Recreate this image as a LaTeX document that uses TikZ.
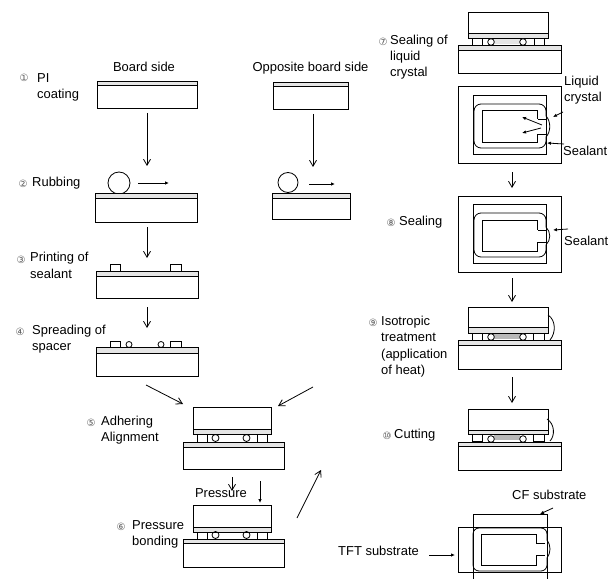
\documentclass[tikz,border=0pt]{standalone}
\usepackage{fontspec}
\setmainfont{Liberation Sans}
\newfontfamily\symfont{DejaVu Sans}
\usetikzlibrary{arrows.meta}
\definecolor{layergray}{gray}{0.9}
\definecolor{fillgray}{gray}{0.72}
\definecolor{numgray}{gray}{0.35}
\tikzset{
  x=1bp,y=-1bp,
  outline/.style={draw=black,line width=0.8bp,line join=miter},
  layer/.style={outline,fill=layergray},
  flow/.style={draw=black,line width=0.8bp,-{Straight Barb[length=6bp,width=7bp,line width=0.8bp]}},
  small flow/.style={draw=black,line width=0.8bp,-{Latex[length=4bp,width=3.5bp]}},
  lbl/.style={anchor=mid west,inner sep=0pt,font=\fontsize{13}{15}\selectfont},
  lblc/.style={anchor=mid,inner sep=0pt,font=\fontsize{13}{15}\selectfont},
  num/.style={anchor=center,inner sep=0pt,text=numgray,font=\symfont\fontsize{10}{12}\selectfont},
}
% plate: x1 x2 top line bottom
\newcommand{\plate}[5]{%
  \path[layer] (#1,#3) rectangle (#2,#4);
  \path[outline] (#1,#4) rectangle (#2,#5);}
% arrow through named end coordinates
\newcommand{\arrowline}[6]{%
  \coordinate (#1-s) at (#3,#4);
  \coordinate (#1-e) at (#5,#6);
  \draw[#2] (#1-s) -- (#1-e);}
\newcommand{\cellbody}[6]{% y1 y2 y3 y4 cy r
  \path[outline] (193,#1) rectangle (271,#2);
  \path[layer] (193,#2) rectangle (271,#3);
  \path[outline] (197,#3) rectangle (207,#4);
  \path[outline] (257,#3) rectangle (267,#4);
  \path[outline] (215.5,#5) circle[radius=#6];
  \path[outline] (246.5,#5) circle[radius=#6];}
\newcommand{\cellbodyr}[7]{% y1 y2 y3 y4 cy fill-colour right-bump-x
  \path[outline] (468,#1) rectangle (548,#2);
  \path[layer] (468,#2) rectangle (548,#3);
  \path[fill=#6] (494,#3+1) rectangle (520,#4-1);
  \path[outline] (472,#3) rectangle (482,#4);
  \path[outline] (#7,#3) rectangle (544,#4);
  \path[outline,fill=white] (491,#5) circle[radius=3.3];
  \path[outline,fill=white] (523,#5) circle[radius=3.3];}
% top view: rounded seal and cell with notch
\newcommand{\sealview}[9]{% xl xr ytop ybot | cx cytop cybot | ntop nbot
  \path[outline,rounded corners=7bp] (#2,#8-3) -- (#2,#3) -- (#1,#3) -- (#1,#4) -- (#2,#4) -- (#2,#9+3);
  \draw[outline] (#2,#8-3) .. controls (#2+5,#8+2) and (#2+5,#9-2) .. (#2,#9+3);
  \path[outline] (#5,#6) rectangle (537,#7);
  \path[outline,fill=white] (537,#8) -- (#2,#8) -- (#2,#9) -- (537,#9);
  \draw[white,line width=1.2bp] (537,#8) -- (537,#9);}
\begin{document}
\begin{tikzpicture}
\useasboundingbox (0,0) rectangle (616,579);
% ---------- left column, board side
\node[lblc] (hboard) at (144,68.5) {Board side};
\node[lblc] (hopp) at (310.5,69) {Opposite board side};
\node[num] (n1) at (24,78) {①};
\node[lbl] (t1a) at (37,80) {PI};
\node[lbl] (t1b) at (37,96) {coating};
\plate{97}{197}{81}{85}{108}
\arrowline{a1}{flow}{147}{113}{147}{166}
\node[num] (n2) at (23,184) {②};
\node[lbl] (t2) at (32,184) {Rubbing};
\node[outline,circle,minimum size=22bp,inner sep=0pt] (r1) at (119,183) {};
\arrowline{a2}{small flow}{138}{183}{169}{183}
\plate{95}{197}{193.5}{198}{222}
\arrowline{a3}{flow}{147}{227}{147}{258}
\node[num] (n3) at (21,260) {③};
\node[lbl] (t3a) at (30,259) {Printing of};
\node[lbl] (t3b) at (30,276) {sealant};
\plate{96}{198}{271}{276}{298}
\path[outline] (110,264) rectangle (120.5,271);
\path[outline] (170,264) rectangle (181.5,271);
\arrowline{a4}{flow}{147}{307}{147}{328}
\node[num] (n4) at (20,332) {④};
\node[lbl] (t4a) at (32,332) {Spreading of};
\node[lbl] (t4b) at (32,348) {spacer};
\plate{96}{198}{347}{353}{376}
\path[outline] (110,341) rectangle (120,347);
\path[outline] (170,341) rectangle (181,347);
\path[outline] (129,344.5) circle[radius=3];
\path[outline] (161,344.5) circle[radius=3];
% ---------- opposite board side
\plate{273}{348}{82}{86}{109}
\arrowline{a5}{flow}{313}{114}{313}{167}
\node[outline,circle,minimum size=20bp,inner sep=0pt] (r2) at (288,182.5) {};
\arrowline{a6}{small flow}{309}{184}{335}{184}
\plate{272}{350}{193}{198}{219}
% ---------- adhering
\arrowline{a7}{flow}{146}{385}{183}{404}
\arrowline{a8}{flow}{313}{387}{278}{406}
\node[num] (n5) at (91,423) {⑤};
\node[lbl] (t5a) at (101,423) {Adhering};
\node[lbl] (t5b) at (101,439) {Alignment};
\cellbody{407}{429}{434}{442}{438}{3.5}
\plate{183}{284}{442}{447}{469}
\arrowline{a9}{flow}{232}{477}{232}{491}
\node[lblc] (press) at (221,495) {Pressure};
\arrowline{a10}{small flow}{260}{481}{260}{503}
% ---------- pressure bonding
\node[num] (n6) at (121,527) {⑥};
\node[lbl] (t6a) at (132,527) {Pressure};
\node[lbl] (t6b) at (132,543) {bonding};
\cellbody{505}{527}{532}{539}{535}{3.5}
\plate{183}{284}{539}{543}{567}
\arrowline{a11}{flow}{297}{518}{321}{470}
% ---------- sealing of liquid crystal
\node[num] (n7) at (383,42) {⑦};
\node[lbl] (t7a) at (390,42) {Sealing of};
\node[lbl] (t7b) at (390,58) {liquid};
\node[lbl] (t7c) at (390,74) {crystal};
\cellbodyr{12}{33}{38}{45}{42}{layergray}{534}
\plate{458}{561}{45}{50}{73}
\path[outline] (458,86) rectangle (561,163);
\path[outline] (473,95) rectangle (546,154);
\sealview{474}{546}{104}{148}{482}{110}{142}{119}{134}
\arrowline{a12}{small flow}{542}{125}{522}{117}
\arrowline{a13}{small flow}{541}{128}{522}{133}
\node[lbl] (t7d) at (564,83) {Liquid};
\node[lbl] (t7e) at (564,99) {crystal};
\node[lbl] (t7f) at (563,153) {Sealant};
\arrowline{a14}{small flow}{563}{112}{553}{117}
\arrowline{a15}{small flow}{564}{144}{547}{143}
\arrowline{a16}{flow}{512}{172}{512}{188}
% ---------- sealing
\node[num] (n8) at (391,223) {⑧};
\node[lbl] (t8) at (399,223) {Sealing};
\path[outline] (458,196) rectangle (561,272);
\path[outline] (473,204) rectangle (546,263);
\sealview{474}{546}{213}{257}{482}{220}{251}{230}{242}
\node[lbl] (t8b) at (564,243) {Sealant};
\arrowline{a17}{small flow}{568}{229}{553}{230}
\arrowline{a18}{flow}{512}{278}{512}{302}
% ---------- isotropic treatment
\node[num] (n9) at (373,323) {⑨};
\node[lbl] (t9a) at (381,323) {Isotropic};
\node[lbl] (t9b) at (381,339) {treatment};
\node[lbl] (t9c) at (381,356) {(application};
\node[lbl] (t9d) at (381,372) {of heat)};
\cellbodyr{307}{327}{333}{340}{337}{fillgray}{533}
\plate{458}{561}{340}{345}{369}
\draw[outline] (548,315) .. controls (556,320) and (556,333) .. (550,340);
\arrowline{a19}{flow}{512}{377}{512}{403}
% ---------- cutting
\node[num] (n10) at (387,436) {⑩};
\node[lbl] (t10) at (394,436) {Cutting};
\cellbodyr{409}{430}{434}{441}{439}{fillgray}{533}
\plate{458}{561}{442}{446}{470}
\draw[outline] (547,419) .. controls (555,424) and (555,436) .. (550,441);
% ---------- substrates
\node[lbl] (tcf) at (512,497) {CF substrate};
\arrowline{a20}{small flow}{553}{508}{540}{514}
\path[outline] (473,579) -- (473,514) -- (547,514) -- (547,579);
\path[outline] (458,527) rectangle (561,572);
\path[outline,rounded corners=6bp] (547,540) -- (547,528) -- (473,528) -- (473,571) -- (547,571) -- (547,558);
\draw[outline] (547,540) .. controls (551,545) and (551,553) .. (547,558);
\path[outline] (545,543) -- (536,543) -- (536,534) -- (481,534) -- (481,565) -- (536,565) -- (536,555) -- (545,555);
\node[lbl] (ttft) at (338,553) {TFT substrate};
\arrowline{a21}{small flow}{429}{555}{455}{555}
\end{tikzpicture}
\end{document}
